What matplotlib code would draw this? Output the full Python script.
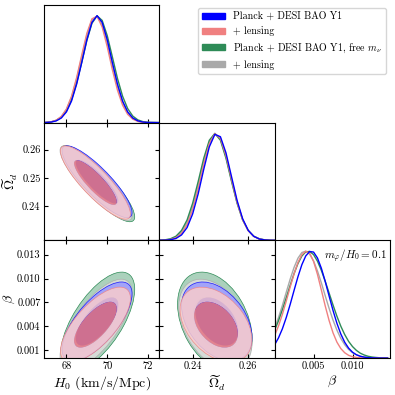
import numpy as np
import matplotlib
matplotlib.use("Agg")
import matplotlib.pyplot as plt
from matplotlib.patches import Annulus, Circle, Patch
from matplotlib.transforms import Affine2D
from matplotlib.colors import to_rgb

plt.rcParams['font.family'] = 'cmr10'
plt.rcParams['mathtext.fontset'] = 'cm'
plt.rcParams['axes.formatter.use_mathtext'] = True

# datasets (legend order)
names = ['Planck + DESI BAO Y1', '+ lensing',
         r'Planck + DESI BAO Y1, free $m_\nu$', '+ lensing']
colors = ['#0000ff', '#f08080', '#2e8b57', '#a9a9a9']

# 1D marginals (peak normalised to 1)
h0_grid = [66.5, 67.0, 67.25, 67.5, 67.75, 68.0, 68.25, 68.5, 68.75, 69.0, 69.25, 69.5,
           69.75, 70.0, 70.25, 70.5, 70.75, 71.0, 71.25, 71.5, 71.75, 72.0, 73.0]
h0_blue = [0.0, 0.002, 0.006, 0.017, 0.044, 0.101, 0.203, 0.361, 0.563, 0.775, 0.938, 1.000,
           0.938, 0.775, 0.563, 0.361, 0.203, 0.101, 0.044, 0.017, 0.006, 0.002, 0.0]
h0_pink = [0.0, 0.003, 0.008, 0.023, 0.058, 0.128, 0.247, 0.422, 0.633, 0.835, 0.971, 0.994,
           0.895, 0.709, 0.495, 0.304, 0.164, 0.078, 0.033, 0.012, 0.004, 0.001, 0.0]
h0_green = [0.0, 0.003, 0.008, 0.021, 0.051, 0.111, 0.215, 0.370, 0.565, 0.768, 0.929, 0.999,
            0.956, 0.813, 0.615, 0.414, 0.248, 0.132, 0.062, 0.026, 0.010, 0.003, 0.0]
h0_gray = [0.0, 0.003, 0.008, 0.023, 0.057, 0.124, 0.240, 0.409, 0.615, 0.818, 0.961, 0.998,
           0.915, 0.741, 0.530, 0.335, 0.187, 0.092, 0.040, 0.015, 0.005, 0.002, 0.0]

om_grid = [0.226, 0.230, 0.232, 0.234, 0.236, 0.238, 0.240, 0.242, 0.244, 0.246, 0.248, 0.250,
           0.252, 0.254, 0.256, 0.258, 0.260, 0.262, 0.264, 0.266, 0.268, 0.272]
om_blue = [0.0, 0.002, 0.006, 0.018, 0.051, 0.120, 0.247, 0.436, 0.665, 0.874, 0.991, 0.969,
           0.818, 0.595, 0.373, 0.202, 0.094, 0.038, 0.013, 0.004, 0.001, 0.0]
om_pink = [0.0, 0.002, 0.008, 0.025, 0.065, 0.146, 0.285, 0.482, 0.708, 0.903, 0.997, 0.955,
           0.794, 0.572, 0.358, 0.194, 0.091, 0.037, 0.013, 0.004, 0.001, 0.0]
om_green = [0.0, 0.005, 0.015, 0.039, 0.093, 0.191, 0.347, 0.551, 0.768, 0.936, 1.000, 0.936,
            0.768, 0.551, 0.347, 0.191, 0.093, 0.039, 0.015, 0.005, 0.001, 0.0]
om_gray = [0.0, 0.003, 0.011, 0.032, 0.078, 0.168, 0.316, 0.517, 0.739, 0.920, 0.999, 0.946,
           0.781, 0.562, 0.352, 0.193, 0.092, 0.038, 0.014, 0.004, 0.001, 0.0]

beta_grid = [0.0, 0.0005, 0.001, 0.0015, 0.002, 0.0025, 0.003, 0.0035, 0.004, 0.0045,
             0.005, 0.0055, 0.006, 0.0065, 0.007, 0.0075, 0.008, 0.0085, 0.009, 0.0095,
             0.010, 0.0105, 0.011, 0.0115, 0.012, 0.0125, 0.013, 0.0135, 0.014, 0.0145]
beta_blue = [0.124, 0.189, 0.274, 0.380, 0.502, 0.633, 0.761, 0.873, 0.955, 0.996,
             0.991, 0.936, 0.840, 0.716, 0.579, 0.445, 0.325, 0.225, 0.148, 0.093,
             0.055, 0.031, 0.017, 0.009, 0.004, 0.002, 0.001, 0.0, 0.0, 0.0]
beta_pink = [0.210, 0.300, 0.409, 0.534, 0.664, 0.788, 0.894, 0.967, 0.999, 0.980,
             0.904, 0.783, 0.637, 0.487, 0.350, 0.236, 0.149, 0.089, 0.050, 0.026,
             0.013, 0.006, 0.003, 0.001, 0.0, 0.0, 0.0, 0.0, 0.0, 0.0]
beta_green = [0.260, 0.349, 0.452, 0.565, 0.680, 0.790, 0.884, 0.954, 0.993, 0.997,
              0.967, 0.906, 0.820, 0.717, 0.607, 0.496, 0.391, 0.298, 0.220, 0.156,
              0.108, 0.072, 0.046, 0.029, 0.017, 0.010, 0.006, 0.003, 0.002, 0.001]
beta_gray = [0.279, 0.379, 0.493, 0.616, 0.738, 0.848, 0.934, 0.987, 0.999, 0.972,
             0.908, 0.815, 0.703, 0.582, 0.464, 0.355, 0.261, 0.184, 0.125, 0.081,
             0.051, 0.031, 0.018, 0.010, 0.005, 0.003, 0.001, 0.0, 0.0, 0.0]

grids = [h0_grid, om_grid, beta_grid]
curves = [[h0_blue, h0_pink, h0_green, h0_gray],
          [om_blue, om_pink, om_green, om_gray],
          [beta_blue, beta_pink, beta_green, beta_gray]]

mean_h0 = [69.50, 69.42, 69.53, 69.45]
sig_h0 = [0.69, 0.69, 0.73, 0.71]
mean_om = [0.2487, 0.2484, 0.2480, 0.2482]
sig_om = [0.0051, 0.0052, 0.0054, 0.0053]
mean_beta = [0.0046, 0.0042, 0.0046, 0.0042]
sig_beta = [0.0020, 0.0019, 0.0025, 0.0023]
rho_h0_om = [-0.86, -0.86, -0.87, -0.87]
rho_h0_beta = [0.70, 0.70, 0.65, 0.70]
rho_om_beta = [-0.40, -0.40, -0.35, -0.40]

means = [mean_h0, mean_om, mean_beta]
sigmas = [sig_h0, sig_om, sig_beta]
rhos = {(1, 0): rho_h0_om, (2, 0): rho_h0_beta, (2, 1): rho_om_beta}

labels = [r'$H_0$ (km/s/Mpc)', r'$\widetilde{\Omega}_d$', r'$\beta$']
lims = [(66.9, 72.55), (0.228, 0.2695), (0.0, 0.0148)]
xticks = [[68, 70, 72], [0.24, 0.26], [0.005, 0.010]]
xticklabels = [['68', '70', '72'], ['0.24', '0.26'], ['0.005', '0.010']]
yticks = [None, [0.24, 0.25, 0.26], [0.001, 0.004, 0.007, 0.010, 0.013]]
yticklabels = [None, ['0.24', '0.25', '0.26'], ['0.001', '0.004', '0.007', '0.010', '0.013']]
ylabel_x = [None, -0.205, -0.235]

K68, K95 = 1.515, 2.486
fill_order = [2, 3, 0, 1]
line_order = [3, 2, 1, 0]

fig = plt.figure(figsize=(3.95, 3.95), dpi=100)
L, T, W, H = 44 / 395, 5 / 395, 115.3 / 395, 117.7 / 395

for i in range(3):
    for j in range(i + 1):
        ax = fig.add_axes([L + j * W, 1 - T - (i + 1) * H, W, H])
        ax.set_xlim(lims[j])
        ax.set_xticks(xticks[j])
        if i == 2:
            ax.set_xticklabels(xticklabels[j], fontsize=7.5)
            ax.set_xlabel(labels[j], fontsize=10, labelpad=2)
        else:
            ax.set_xticklabels([])
        for s in ax.spines.values():
            s.set_linewidth(0.8)
        if i == j:
            for k in line_order:
                ax.plot(grids[i], curves[i][k], color=colors[k], lw=1.0)
            ax.set_ylim(0, 1.1)
            ax.set_yticks([])
            ax.tick_params(direction='in', length=3, width=0.8, pad=2.5, top=False)
        else:
            ax.set_ylim(lims[i])
            ax.set_yticks(yticks[i])
            if j == 0:
                ax.set_yticklabels(yticklabels[i], fontsize=7.5)
                ax.set_ylabel(labels[i], fontsize=10)
                ax.yaxis.set_label_coords(ylabel_x[i], 0.5)
            else:
                ax.set_yticklabels([])
            ax.tick_params(direction='in', length=3, width=0.8, pad=2.5,
                           top=True, right=True)
            rr = rhos[(i, j)]
            for k in fill_order:
                sx, sy, r = sigmas[j][k], sigmas[i][k], rr[k]
                tr = Affine2D(np.array([[sx, 0.0, means[j][k]],
                                        [r * sy, sy * np.sqrt(1 - r ** 2), means[i][k]],
                                        [0.0, 0.0, 1.0]])) + ax.transData
                base = to_rgb(colors[k])
                pale = [c * 0.4 + 0.6 for c in base]
                a = 1.0 if k == fill_order[0] else 0.85
                ax.add_patch(Annulus((0, 0), K95, K95 - K68, transform=tr,
                                     facecolor=pale, edgecolor='none', alpha=a))
                ax.add_patch(Circle((0, 0), K68, transform=tr,
                                    facecolor=base, edgecolor='none', alpha=a))
                ax.add_patch(Circle((0, 0), K95, transform=tr,
                                    facecolor='none', edgecolor=base, lw=0.5, alpha=a))
            ax.set_xlim(lims[j])
            ax.set_ylim(lims[i])

        if i == 2 and j == 2:
            ax.text(0.97, 0.94, r'$m_\varphi/H_0 = 0.1$', transform=ax.transAxes,
                    ha='right', va='top', fontsize=8)

handles = [Patch(facecolor=c, edgecolor=c) for c in colors]
fig.legend(handles, names, loc='upper right', bbox_to_anchor=(0.99, 0.993),
           fontsize=7.2, handlelength=2.3, handleheight=0.6, labelspacing=0.5,
           borderpad=0.4, handletextpad=0.8)

fig.savefig('out.png', dpi=100)
